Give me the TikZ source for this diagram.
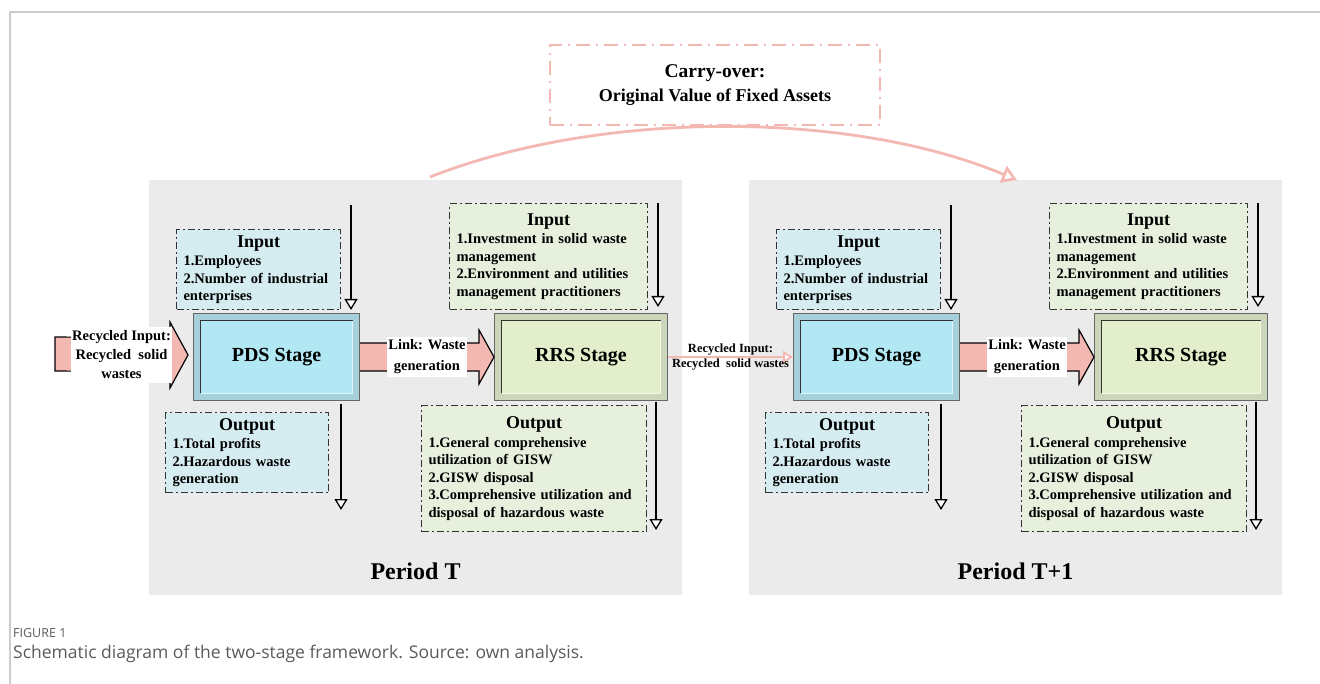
\documentclass[tikz,border=0pt]{standalone}
\usepackage{fontspec}
\setmainfont{Liberation Serif}
\newfontfamily\capfont{Open Sans}
\usetikzlibrary{arrows.meta,calc}

\definecolor{panelgray}{HTML}{EBEBEB}
\definecolor{pinkflow}{HTML}{F4B8B3}
\definecolor{pdsfill}{HTML}{B2E8F4}
\definecolor{pdsbox}{HTML}{D5ECF1}
\definecolor{rrsfill}{HTML}{E2EFCA}
\definecolor{rrsbox}{HTML}{E7EFDD}
\definecolor{framegray}{HTML}{CCCCCC}
\definecolor{capgray}{HTML}{5A5A5A}

\newcommand\boxtitle[1]{\centerline{\fontsize{18}{20}\selectfont #1}\vskip1pt}

\begin{document}
\begin{tikzpicture}[x=1pt, y=-1pt, line join=round,
    panel/.style={fill=panelgray, minimum width=533pt, minimum height=415pt, inner sep=0pt},
    periodlabel/.style={font=\bfseries\fontsize{24}{28}\selectfont, inner sep=0pt},
    infobox/.style={draw=black!80, line width=1.1pt, dash pattern=on 7pt off 3pt on 2pt off 3pt,
        fill=#1, anchor=north west, align=left, inner sep=0pt, inner xsep=7pt,
        font=\bfseries\fontsize{14.5}{17.5}\selectfont},
    stage/.style={draw=black!60, line width=1pt, fill=#1!78!gray, anchor=north west,
        minimum width=166pt, minimum height=87pt, inner sep=0pt,
        font=\bfseries\fontsize{20}{24}\selectfont,
        path picture={
            \coordinate (sw) at (path picture bounding box.south west);
            \coordinate (ne) at (path picture bounding box.north east);
            \fill[#1] ($(sw)+(7,-7)$) rectangle ($(ne)+(-7,7)$);
            \draw[white!55!#1, line width=1.6pt] ($(ne)+(-7,7)$) -- ($(ne |- sw)+(-7,-7)$) -- ($(sw)+(7,-7)$);
            \draw[black!80, line width=1.8pt] ($(sw)+(7,-7)$) -- ($(sw |- ne)+(7,7)$) -- ($(ne)+(-7,7)$);
        }},
    flowdown/.style={line width=1.3pt, -{Triangle[open, fill=white, length=11pt, width=13pt]}},
    blockarrow/.style={fill=pinkflow, draw=black, line width=1.2pt, line join=miter},
    whitelabel/.style={fill=white, align=center, inner sep=0pt, font=\bfseries\fontsize{14.5}{19}\selectfont},
    recflow/.style={draw=pinkflow, line width=1.8pt, -{Triangle[open, fill=white, length=10pt, width=12pt]}},
    smalllabel/.style={font=\bfseries\fontsize{12.5}{14}\selectfont, inner sep=1pt},
    carrybox/.style={draw=pinkflow, line width=2pt, dash pattern=on 14pt off 6pt on 2pt off 6pt,
        minimum width=330pt, minimum height=80pt, align=center, font=\bfseries\fontsize{18}{24}\selectfont},
    carryflow/.style={draw=pinkflow, line width=2.8pt, -{Triangle[open, fill=white, length=15pt, width=18pt]}}]

    \useasboundingbox (0,0) rectangle (1320,684);
    \draw[framegray, line width=1.2pt] (10,684) -- (10,12) -- (1320,12);

    % two periods, same layout
    \foreach \dx/\p/\per in {0/a/T, 600/b/T+1} {
        \node[panel] (panel\p) at (\dx+415.5,387.5) {};
        \node[periodlabel] (period\p) at (\dx+415.5,571) {Period \per};

        \node[stage=pdsfill] (pds\p) at (\dx+193,313) {PDS Stage};
        \node[stage=rrsfill, minimum width=173pt] (rrs\p) at (\dx+494,313) {RRS Stage};

        \node[infobox=pdsbox, text width=150pt, minimum height=80pt] (pdsin\p) at (\dx+176,229)
            {\boxtitle{Input}1.Employees\\2.Number of industrial\\enterprises};
        \node[infobox=rrsbox, text width=184pt, minimum height=106pt] (rrsin\p) at (\dx+449,203)
            {\boxtitle{Input}1.Investment in solid waste\\management\\2.Environment and utilities\\management practitioners};
        \node[infobox=pdsbox, text width=149pt, minimum height=80pt] (pdsout\p) at (\dx+165,412)
            {\boxtitle{Output}1.Total profits\\2.Hazardous waste\\generation};
        \node[infobox=rrsbox, text width=211pt, minimum height=126pt] (rrsout\p) at (\dx+421,405)
            {\boxtitle{Output}1.General comprehensive\\utilization of GISW\\2.GISW disposal\\3.Comprehensive utilization and\\disposal of hazardous waste};

        \draw[flowdown] ($(pds\p.north east)+(-9,-108)$) -- ($(pds\p.north east)+(-9,-3)$);
        \draw[flowdown] ($(pds\p.south east)+(-19,3)$) -- ($(pds\p.south east)+(-19,109)$);
        \draw[flowdown] ($(rrs\p.north east)+(-10,-110)$) -- ($(rrs\p.north east)+(-10,-6)$);
        \draw[flowdown] ($(rrs\p.south east)+(-12,1)$) -- ($(rrs\p.south east)+(-12,129)$);

        % link arrow between the stages
        \draw[blockarrow] ($(pds\p.east)+(0,-14)$) -- ($(rrs\p.west)+(-15,-14)$) -- ($(rrs\p.west)+(-15,-27)$)
            -- (rrs\p.west) -- ($(rrs\p.west)+(-15,27)$) -- ($(rrs\p.west)+(-15,14)$) -- ($(pds\p.east)+(0,14)$);
        \node[whitelabel, minimum width=80pt, minimum height=40pt, font=\bfseries\fontsize{14.5}{21}\selectfont]
            (link\p) at ($(pds\p.east)!0.5!(rrs\p.west)$) {Link: Waste\\generation};
    }

    % recycled input of period T
    \coordinate (recin) at (55,354);
    \draw[blockarrow] ($(recin)+(0,-17)$) -- ($(pdsa.west)+(-23,-19)$) -- ($(pdsa.west)+(-23,-35)$)
        -- ($(pdsa.west)+(-5,-2)$) -- ($(pdsa.west)+(-23,31)$) -- ($(pdsa.west)+(-23,15)$) -- ($(recin)+(0,17)$) -- cycle;
    \node[whitelabel, minimum width=101pt, minimum height=56pt] (recinlabel) at (121.5,355)
        {Recycled Input:\\Recycled\ \ solid\\wastes};

    % recycled input carried to period T+1
    \draw[recflow] (rrsa.east) -- (pdsb.west)
        node[smalllabel, midway, above] (recout1) {Recycled Input:}
        node[smalllabel, midway, below] (recout2) {Recycled\ \ solid wastes};

    % carry-over
    \node[carrybox] (carry) at (715,85.5)
        {{\fontsize{19.5}{24}\selectfont Carry-over:}\\Original Value of Fixed Assets};
    \coordinate (carryS) at (430,177);
    \coordinate (carryE) at (1017,180);
    \draw[carryflow] (carryS) .. controls (600,110) and (850,110) .. (carryE);

    \node[anchor=west, inner sep=0pt, text=capgray, font=\capfont\fontsize{12.5}{14}\selectfont] (figlabel) at (13,633) {FIGURE 1};
    \node[anchor=west, inner sep=0pt, text=capgray, font=\capfont\fontsize{17.5}{20}\selectfont] (figcaption) at (13,654)
        {Schematic diagram of the two-stage framework. Source: own analysis.};
\end{tikzpicture}
\end{document}
